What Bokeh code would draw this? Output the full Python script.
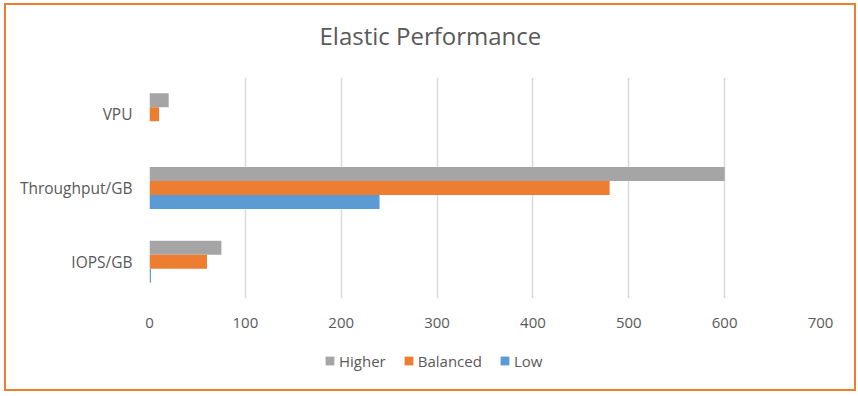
from bokeh.plotting import figure
from bokeh.layouts import column
from bokeh.models import (FactorRange, Range1d, Legend, LegendItem, ColumnDataSource,
                          Title, FixedTicker)
from bokeh.transform import dodge
from bokeh.embed import file_html
from bokeh.resources import INLINE

categories = ["IOPS/GB", "Throughput/GB", "VPU"]
higher = [75, 600, 20]
balanced = [60, 480, 10]
low = [1.5, 240, 0]
series_names = ["Higher", "Balanced", "Low"]
series_colors = ["#a5a5a5", "#ed7d31", "#5b9bd5"]
x_ticks = [0, 100, 200, 300, 400, 500, 600, 700]
title_text = "Elastic Performance"

FONT = "Open Sans"
TXT = "#595959"
W = 848
H_TITLE, H_MAIN, H_LEG = 72, 265, 47
ML, MR = 143, 34


def bare_figure(height, **kw):
    f = figure(width=W, height=height, x_range=Range1d(0, 1), y_range=Range1d(0, 1),
               x_axis_type=None, y_axis_type=None, output_backend="svg",
               toolbar_location=None, **kw)
    f.outline_line_color = None
    f.background_fill_color = "white"
    f.border_fill_color = "white"
    return f


# ---- title strip ----
tf = bare_figure(H_TITLE, min_border_left=ML, min_border_right=MR,
                 min_border_top=0, min_border_bottom=0)
tf.add_layout(Title(text=title_text, align="left", offset=170, standoff=27,
                    vertical_align="top", text_font=FONT, text_font_size="24px",
                    text_color=TXT, text_font_style="normal"), "above")

# ---- main chart ----
source = ColumnDataSource(dict(cat=categories, Higher=higher, Balanced=balanced, Low=low))
p = figure(width=W, height=H_MAIN, y_range=FactorRange(*categories), x_range=Range1d(0, 700),
           output_backend="svg", toolbar_location=None,
           min_border_left=ML, min_border_right=MR, min_border_top=0, min_border_bottom=44)
p.outline_line_color = None
p.background_fill_color = "white"
p.border_fill_color = "white"

bh = 0.19
offsets = [bh, 0.0, -bh]
for name, color, off in zip(series_names, series_colors, offsets):
    p.hbar(y=dodge("cat", off, range=p.y_range), right=name, left=0, height=bh,
           source=source, fill_color=color, line_color=None)

p.xaxis.ticker = FixedTicker(ticks=x_ticks)
for ax in (p.xaxis[0], p.yaxis[0]):
    ax.axis_line_color = None
    ax.major_tick_line_color = None
    ax.minor_tick_line_color = None
    ax.major_tick_out = 0
    ax.major_tick_in = 0
    ax.major_label_text_color = TXT
    ax.major_label_text_font = FONT
p.xaxis.major_label_text_font_size = "15px"
p.yaxis.major_label_text_font_size = "15.5px"
p.xaxis.major_label_standoff = 19
p.yaxis.major_label_standoff = 17

p.xgrid.grid_line_color = "#d9d9d9"
p.xgrid.grid_line_width = 1.5
p.ygrid.grid_line_color = None

# ---- legend strip ----
lf = bare_figure(H_LEG, min_border_left=ML, min_border_right=MR,
                 min_border_top=0, min_border_bottom=0)
# zero-width swatch renderers (nothing visible in the strip itself)
leg_renderers = [lf.hbar(y=[0.5], right=[0], left=[0], height=0.1, fill_color=c, line_color=None)
                 for c in series_colors]
legend = Legend(items=[LegendItem(label=n, renderers=[r]) for n, r in zip(series_names, leg_renderers)],
                orientation="horizontal", location=(175, 18.5), padding=0, margin=0,
                spacing=17, label_standoff=4, glyph_width=11, glyph_height=11,
                label_height=15, label_text_font=FONT, label_text_font_size="15px",
                label_text_color=TXT, border_line_color=None, background_fill_alpha=0)
lf.add_layout(legend, "center")

lay = column(tf, p, lf, spacing=0)
lay.styles = {"margin-left": "6px", "margin-top": "5px", "outline": "2px solid #ed7d31"}

open("out.html", "w").write(file_html(lay, INLINE))
